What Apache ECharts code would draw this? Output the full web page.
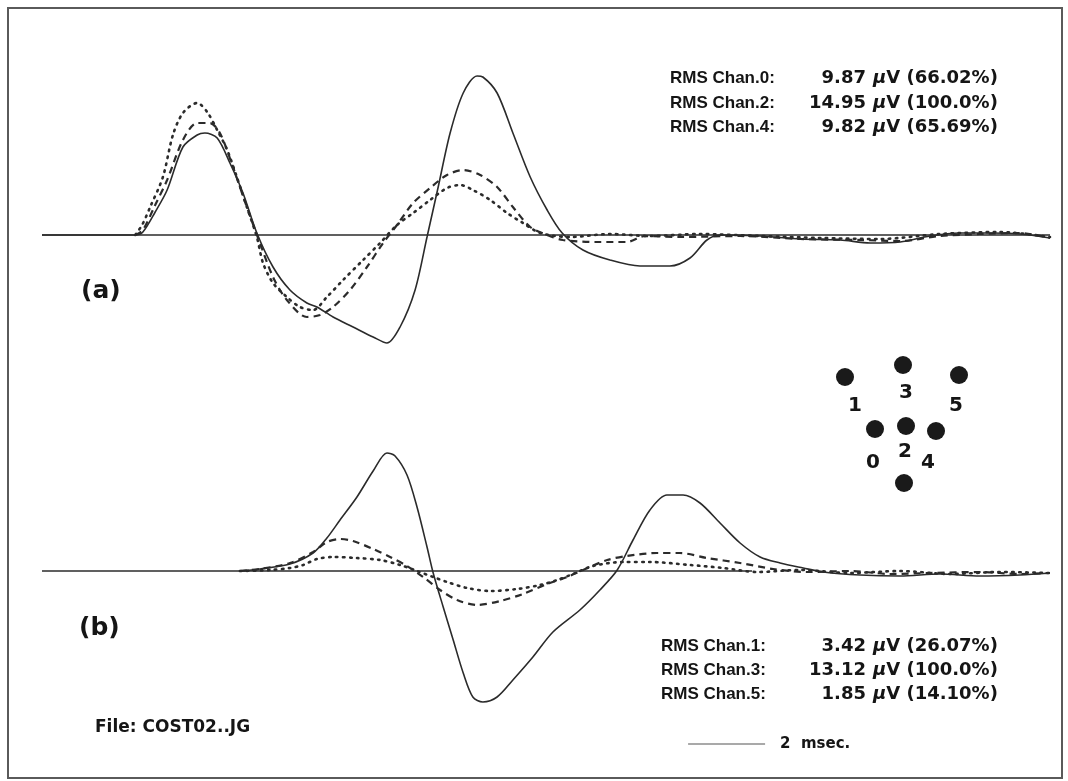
<!DOCTYPE html>
<html>
<head>
<meta charset="utf-8">
<script src="https://cdn.jsdelivr.net/npm/echarts@6/dist/echarts.min.js"></script>
<style>
  html, body { margin: 0; padding: 0; background: #fff; }
  #chart { width: 1068px; height: 781px; }
</style>
</head>
<body>
<div id="chart"></div>
<script>
// Time in msec, amplitude in µV. Each trace is a list of [t, v] samples.

// (a) channels 0, 2, 4
const traceA_chan2 = [
  [0, 0], [2.42, 0], [2.62, 0.3], [2.94, 2.3], [3.25, 4.5], [3.66, 8.8], [4.03, 10.0], [4.23, 10.2],
  [4.55, 9.7], [4.88, 7.2], [5.22, 4.2], [5.58, 0.2], [6.00, -3.2], [6.44, -5.5], [6.88, -6.8],
  [7.14, -7.2], [7.56, -8.2], [8.08, -9.2], [8.60, -10.2], [8.96, -10.8], [9.30, -9.2], [9.69, -5.5],
  [10.00, -0.2], [10.29, 4.8], [10.60, 10.2], [10.94, 14.2], [11.30, 15.9], [11.45, 15.8],
  [11.82, 14.2], [12.23, 10.2], [12.68, 5.8], [13.12, 2.5], [13.51, 0.2], [14.05, -1.5],
  [14.75, -2.5], [15.53, -3.1], [16.31, -3.1], [16.83, -2.3], [17.27, -0.5], [17.61, 0],
  [18.65, -0.1], [19.69, -0.4], [20.73, -0.5], [21.51, -0.8], [22.29, -0.7], [23.06, -0.1],
  [23.84, 0.2], [24.62, 0.2], [25.40, 0.1], [26.18, -0.3]
];
const traceA_chan0 = [
  [2.42, 0], [2.62, 0.5], [2.94, 3.0], [3.25, 5.5], [3.66, 9.5], [4.03, 11.2], [4.36, 11.2],
  [4.62, 10.2], [4.96, 6.8], [5.32, 2.8], [5.66, -0.8], [6.00, -4.2], [6.36, -6.5], [6.88, -8.2],
  [7.22, -8.0], [7.56, -7.2], [8.00, -5.5], [8.44, -3.2], [8.86, -0.8], [9.22, 1.0], [9.64, 3.2],
  [10.08, 4.7], [10.52, 6.0], [10.94, 6.5], [11.38, 6.0], [11.82, 4.8], [12.23, 2.8], [12.68, 0.8],
  [13.12, 0], [13.53, -0.5], [14.42, -0.7], [15.19, -0.7], [15.66, -0.1], [16.57, -0.2],
  [18.13, -0.1], [19.69, -0.4], [21.25, -0.5], [22.29, -0.6], [23.32, -0.1], [24.36, 0.1],
  [25.40, 0.2], [26.18, -0.3]
];
const traceA_chan4 = [
  [2.42, 0], [2.60, 1.0], [2.81, 2.8], [3.14, 5.8], [3.40, 10.0], [3.66, 12.2], [4.03, 13.2],
  [4.29, 12.3], [4.55, 10.5], [4.81, 8.5], [5.06, 5.8], [5.32, 2.8], [5.58, -0.2], [5.74, -2.8],
  [6.00, -4.8], [6.36, -6.2], [6.70, -7.2], [7.04, -7.5], [7.40, -6.2], [7.82, -4.5], [8.34, -2.5],
  [8.78, -0.8], [9.22, 1.0], [9.64, 2.2], [10.08, 3.5], [10.52, 4.7], [10.86, 5.0], [11.19, 4.5],
  [11.64, 3.5], [12.08, 2.2], [12.49, 1.2], [12.94, 0.2], [13.71, -0.2], [14.75, 0.1],
  [15.79, -0.1], [17.09, 0.1], [18.65, -0.1], [20.21, -0.3], [21.77, -0.4], [23.32, 0.1],
  [24.88, 0.3], [26.18, -0.2]
];

// (b) channels 1, 3, 5
const traceB_chan3 = [
  [5.14, 0], [5.66, 0.2], [6.44, 0.7], [7.04, 1.8], [7.40, 3.3], [7.74, 5.1], [8.18, 7.4],
  [8.60, 10.0], [8.96, 11.8], [9.17, 11.5], [9.48, 9.6], [9.74, 6.4], [10.00, 2.4], [10.16, -0.2],
  [10.42, -3.6], [10.68, -6.9], [10.94, -10.2], [11.19, -12.6], [11.45, -13.1], [11.82, -12.6],
  [12.23, -10.9], [12.75, -8.6], [13.27, -6.1], [13.97, -3.9], [14.49, -1.9], [14.94, 0.1],
  [15.35, 3.1], [15.79, 6.1], [16.23, 7.6], [16.65, 7.6], [17.09, 6.8], [17.61, 4.8],
  [18.13, 2.8], [18.65, 1.4], [19.17, 0.8], [19.77, 0.3], [20.29, -0.1], [21.25, -0.4],
  [22.29, -0.5], [23.32, -0.3], [24.36, -0.5], [25.40, -0.4], [26.18, -0.2]
];
const traceB_chan1 = [
  [5.14, 0], [5.66, 0.2], [6.44, 0.8], [7.04, 1.9], [7.40, 2.9], [7.74, 3.2], [8.08, 3.0],
  [8.60, 2.2], [9.04, 1.4], [9.48, 0.5], [9.90, -0.6], [10.34, -1.9], [10.78, -2.9], [11.30, -3.4],
  [11.90, -3.0], [12.49, -2.3], [13.12, -1.3], [13.64, -0.6], [14.23, 0.4], [14.68, 1.1],
  [15.19, 1.5], [15.97, 1.8], [16.57, 1.8], [17.27, 1.3], [18.13, 0.8], [18.99, 0.2],
  [19.87, -0.1], [20.99, 0], [22.03, -0.3], [23.06, -0.2], [24.36, -0.1], [25.40, -0.3],
  [26.18, -0.2]
];
const traceB_chan5 = [
  [5.14, 0], [5.92, 0.1], [6.44, 0.3], [6.78, 0.6], [7.14, 1.2], [7.56, 1.4], [8.18, 1.3],
  [8.78, 1.1], [9.30, 0.6], [9.74, 0], [10.16, -0.6], [10.52, -1.1], [11.04, -1.7], [11.64, -2.0],
  [12.34, -1.8], [12.94, -1.4], [13.38, -0.9], [13.79, -0.3], [14.31, 0.5], [15.09, 0.9],
  [15.79, 0.9], [16.83, 0.6], [17.69, 0.3], [18.57, -0.1], [19.69, 0.1], [20.99, -0.2],
  [22.29, 0], [23.58, -0.3], [24.88, -0.1], [26.18, -0.2]
];

// Zero lines and the 2 msec time-scale bar
const baselineA = [[0, 0], [26.18, 0]];
const baselineB = [[0, 0], [18.44, 0]];
const scaleBar = [[16.78, -17.3], [18.78, -17.3]];

// RMS summaries
const rmsChansA = ['0', '2', '4'];
const rmsValsA = ['9.87', '14.95', '9.82'];
const rmsPctA = ['66.02', '100.0', '65.69'];
const rmsChansB = ['1', '3', '5'];
const rmsValsB = ['3.42', '13.12', '1.85'];
const rmsPctB = ['26.07', '100.0', '14.10'];

// Electrode layout (head-map units) and labels
const electrodeX = [55, 25, 86, 83, 116, 139, 84];
const electrodeY = [89, 37, 86, 25, 91, 35, 143];
const electrodeLabelText = ['0', '1', '2', '3', '4', '5'];
const electrodeLabelX = [53, 35, 85, 86, 108, 136];
const electrodeLabelY = [123, 66, 112, 53, 123, 66];

const INK = '#2b2b2b';
const TEXT = '#151515';
const SANS = '"Liberation Sans", Arial, sans-serif';
const HEAVY = '"DejaVu Sans", sans-serif';

const solid = { color: INK, width: 1.6, type: 'solid' };
const dashed = { color: INK, width: 2.2, type: [7, 5] };
const dotted = { color: INK, width: 2.6, type: [1.5, 5.5], cap: 'round' };

function trace(data, gi, style, z) {
  return {
    type: 'line', xAxisIndex: gi, yAxisIndex: gi, data: data,
    showSymbol: false, smooth: 0.3, lineStyle: style, z: z || 2,
    silent: true
  };
}

const series = [
  trace(baselineA, 0, { color: INK, width: 1.6 }, 1),
  trace(traceA_chan2, 0, solid, 3),
  trace(traceA_chan0, 0, dashed),
  trace(traceA_chan4, 0, dotted),
  trace(baselineB, 1, { color: INK, width: 1.6 }, 1),
  trace(traceB_chan3, 1, solid, 3),
  trace(traceB_chan1, 1, dashed),
  trace(traceB_chan5, 1, dotted),
  {
    type: 'line', xAxisIndex: 1, yAxisIndex: 1, data: scaleBar,
    showSymbol: false, silent: true,
    lineStyle: { color: '#555', width: 1.2 },
    endLabel: {
      show: true, formatter: '2  msec.', distance: 15,
      fontFamily: HEAVY, fontWeight: 'bold', fontSize: 15, color: TEXT
    }
  },
  {
    type: 'scatter', xAxisIndex: 2, yAxisIndex: 2, silent: true,
    data: electrodeX.map((x, i) => [x, electrodeY[i]]),
    symbol: 'circle', symbolSize: 18,
    itemStyle: { color: '#1a1a1a', opacity: 1 }
  },
  {
    type: 'scatter', xAxisIndex: 2, yAxisIndex: 2, silent: true,
    data: electrodeLabelX.map((x, i) => [x, electrodeLabelY[i], electrodeLabelText[i]]),
    symbolSize: 1,
    itemStyle: { color: 'rgba(0,0,0,0)', opacity: 0 },
    label: {
      show: true, position: 'inside', formatter: p => p.value[2],
      fontFamily: HEAVY, fontWeight: 'bold', fontSize: 20, color: TEXT,
      textBorderWidth: 0, opacity: 1
    }
  }
];

function hiddenAxis(extra) {
  return Object.assign({
    type: 'value', show: false, splitLine: { show: false },
    axisLine: { show: false }, axisTick: { show: false }, axisLabel: { show: false }
  }, extra);
}

const graphic = [
  {
    type: 'rect', shape: { x: 8, y: 8, width: 1054, height: 770 },
    style: { fill: 'none', stroke: '#5a5a5a', lineWidth: 2 }, silent: true
  }
];
// RMS text lines: label, value right-aligned, then unit and percentage
function rmsBlock(chans, vals, pcts, x0, xv, ys) {
  chans.forEach((c, i) => {
    graphic.push({ type: 'text', x: x0, y: ys[i], silent: true,
      style: { text: 'RMS Chan.' + c + ':', align: 'left', verticalAlign: 'middle',
        fontFamily: SANS, fontWeight: 'bold', fontSize: 17, fill: TEXT } });
    graphic.push({ type: 'text', x: xv, y: ys[i], silent: true,
      style: { text: vals[i], align: 'right', verticalAlign: 'middle',
        fontFamily: HEAVY, fontWeight: 'bold', fontSize: 18, fill: TEXT } });
    graphic.push({ type: 'text', x: xv + 7, y: ys[i], silent: true,
      style: {
        text: '{mu|μ}V (' + pcts[i] + '%)', align: 'left', verticalAlign: 'middle',
        fontFamily: HEAVY, fontWeight: 'bold', fontSize: 18, fill: TEXT,
        rich: { mu: { fontFamily: HEAVY, fontStyle: 'italic', fontWeight: 'bold', fontSize: 18, fill: TEXT } }
      } });
  });
}
rmsBlock(rmsChansA, rmsValsA, rmsPctA, 670, 866, [78, 103, 127]);
rmsBlock(rmsChansB, rmsValsB, rmsPctB, 661, 866, [646, 670, 694]);

const headStyle = { fontFamily: HEAVY, fontWeight: 'bold', fontSize: 25, fill: TEXT, verticalAlign: 'middle' };
graphic.push({ type: 'text', x: 81, y: 291, silent: true, style: Object.assign({ text: '(a)' }, headStyle) });
graphic.push({ type: 'text', x: 79, y: 628, silent: true, style: Object.assign({ text: '(b)' }, headStyle) });
graphic.push({ type: 'text', x: 95, y: 728, silent: true,
  style: { text: 'File: COST02..JG', fontFamily: HEAVY, fontWeight: 'bold', fontSize: 17, fill: TEXT, verticalAlign: 'middle' } });

const chart = echarts.init(document.getElementById('chart'), null, { renderer: 'canvas' });
chart.setOption({
  backgroundColor: '#ffffff',
  animation: false,
  grid: [
    { left: 42, top: 35, width: 1008, height: 400 },
    { left: 42, top: 371, width: 1008, height: 400 },
    { left: 820, top: 340, width: 180, height: 160 }
  ],
  xAxis: [
    hiddenAxis({ gridIndex: 0, min: 0, max: 26.18 }),
    hiddenAxis({ gridIndex: 1, min: 0, max: 26.18 }),
    hiddenAxis({ gridIndex: 2, min: 0, max: 180 })
  ],
  yAxis: [
    hiddenAxis({ gridIndex: 0, min: -20, max: 20 }),
    hiddenAxis({ gridIndex: 1, min: -20, max: 20 }),
    hiddenAxis({ gridIndex: 2, min: 0, max: 160, inverse: true })
  ],
  series: series,
  graphic: graphic
});
</script>
</body>
</html>
